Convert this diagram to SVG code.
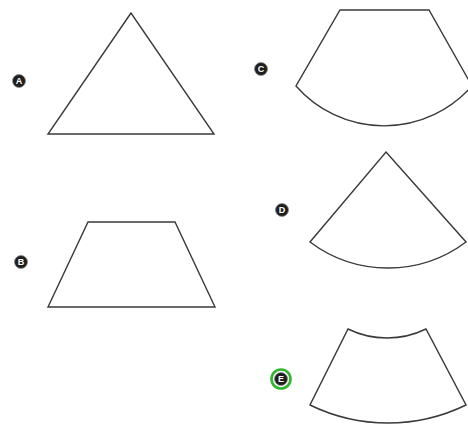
<svg xmlns="http://www.w3.org/2000/svg" width="468" height="424" viewBox="0 0 468 424">
<style>
.s{fill:#fff;stroke:#3a3a3a;stroke-width:1.4;stroke-linejoin:miter}
.b{fill:#1e1e1e;stroke:#888;stroke-width:0.8}
.t{fill:#fff;font-family:"Liberation Sans",Arial,sans-serif;font-weight:bold;font-size:9px;text-anchor:middle}
.g{fill:none;stroke:#2fb52f;stroke-width:2.6}
</style>
<rect width="468" height="424" fill="#fff"/>
<g id="A">
<path class="s" d="M131,13 L48,134 L214,134 Z"/>
<circle class="b" cx="19" cy="81" r="6.5"/>
<text class="t" x="19" y="84.3">A</text>
</g>
<g id="B">
<path class="s" d="M88,222 L175,222 L215,307 L48,307 Z"/>
<circle class="b" cx="21" cy="262" r="6.5"/>
<text class="t" x="21" y="265.3">B</text>
</g>
<g id="C">
<path class="s" d="M340,10 L429,10 L472,86 A117,117 0 0 1 296,86 Z"/>
<circle class="b" cx="261" cy="69" r="6.5"/>
<text class="t" x="261" y="72.3">C</text>
</g>
<g id="D">
<path class="s" d="M386,152 L466,242 A130,130 0 0 1 310,242 Z"/>
<circle class="b" cx="282" cy="210" r="6.5"/>
<text class="t" x="282" y="213.3">D</text>
</g>
<g id="E">
<path class="s" d="M348,329 A89,89 0 0 0 426,329 L466,405 A178,178 0 0 1 310,405 Z"/>
<circle class="g" cx="281" cy="379" r="9.5"/>
<circle class="b" cx="281" cy="379" r="6.5"/>
<text class="t" x="281" y="382.3">E</text>
</g>
</svg>
